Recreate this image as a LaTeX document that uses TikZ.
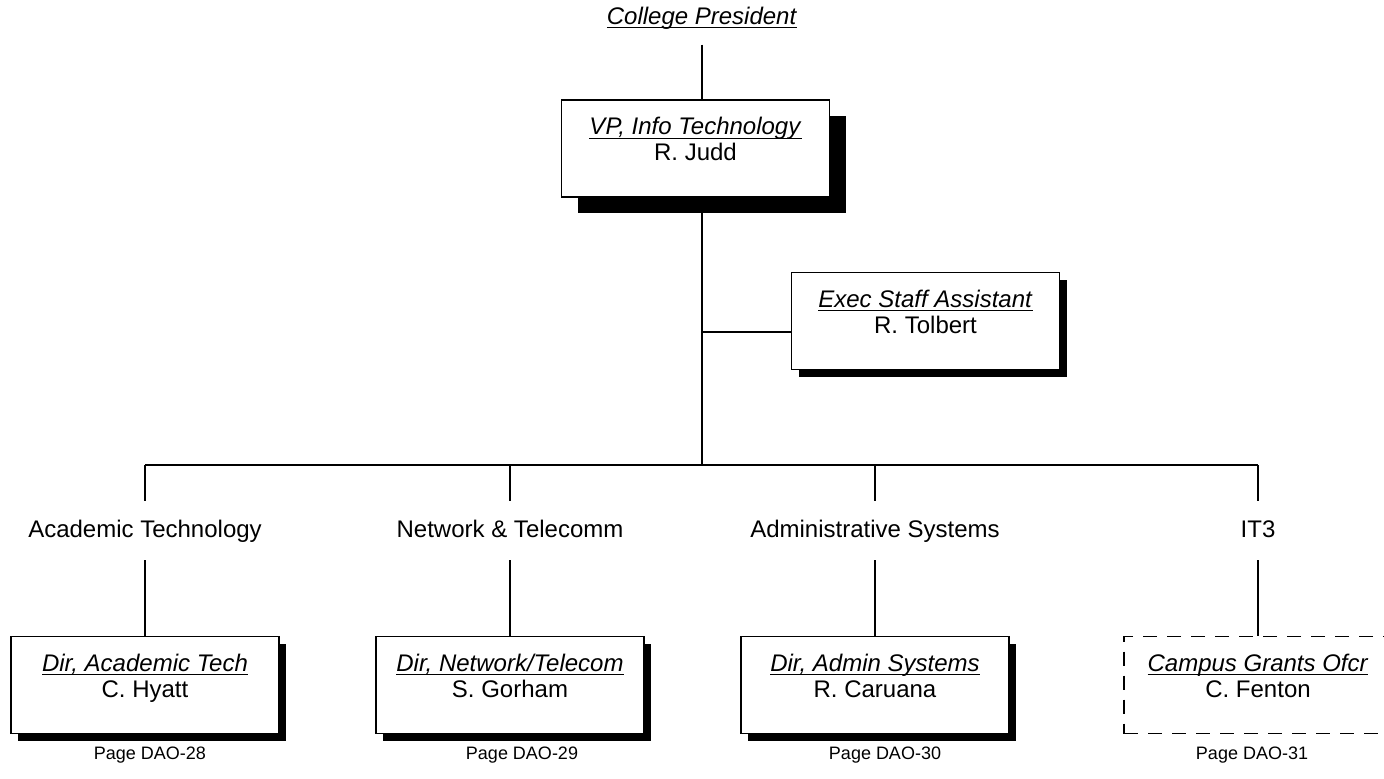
\documentclass[tikz,border=0pt]{standalone}
\usepackage{amsmath}
\usepackage{fontspec}
\setmainfont{Liberation Sans}
\setsansfont{Liberation Sans}
\usetikzlibrary{
	positioning,
	shadows,
	backgrounds,
	calc,
}
\tikzset{every picture/.style={/utils/exec={\sffamily}}}
\newcommand{\ttl}[1]{\underline{\smash[b]{\textit{#1}}}}
\newcommand{\role}[2]{\ttl{#1}\\#2\\[-3.5pt]\mbox{}}

\begin{document}
\begin{tikzpicture} [
            x=0.5pt,y=-0.5pt,
            every node/.style={align=center,rectangle},
            conn/.style={line width=0.8pt},
            head/.style={font=\fontsize{12}{13}\selectfont,inner ysep=7.5pt},
            post/.style={draw,line width=0.9pt,fill=white,minimum width=134pt,minimum height=48.5pt,font=\fontsize{12}{13}\selectfont,
                drop shadow={shadow xshift=#1,shadow yshift=-#1,fill=black,opacity=1}},
            post/.default=3.5pt,
            vacant/.style={draw,dashed,dash pattern=on 7pt off 5pt,line width=0.9pt,fill=white,minimum width=134pt,minimum height=48.5pt,font=\fontsize{12}{13}\selectfont},
            unit/.style={font=\fontsize{12}{13}\selectfont,text height=9pt,text depth=2.5pt,inner ysep=9pt},
            pg/.style={font=\fontsize{9}{10}\selectfont}
        ]
        \useasboundingbox (0,0) rectangle (1384,778);

        \node at (702,18) [head] (pres) {\ttl{College President}};

        \node at (695.5,148.5) [post=8pt] (vp) {\role{VP, Info Technology}{R. Judd}};

        \node at (925.5,321) [post] (exec) {\role{Exec Staff Assistant}{R. Tolbert}};

        \coordinate (estap) at (702,332);
        \coordinate (hub) at (702,465);

        \node at (145,530.5) [unit] (acad) {Academic Technology};
        \node at (510,530.5) [unit] (net) {Network \& Telecomm};
        \node at (875,530.5) [unit] (adm) {Administrative Systems};
        \node at (1258,530.5) [unit] (it) {IT3};

        \node at (145,685) [post] (dacad) {\role{Dir, Academic Tech}{C. Hyatt}};
        \node at (510,685) [post] (dnet) {\role{Dir, Network/Telecom}{S. Gorham}};
        \node at (875,685) [post] (dadm) {\role{Dir, Admin Systems}{R. Caruana}};
        \node at (1258,685) [vacant] (grants) {\role{Campus Grants Ofcr}{C. Fenton}};

        \node at (150,755) [pg] (pg28) {Page DAO-28};
        \node at (522,755) [pg] (pg29) {Page DAO-29};
        \node at (885,755) [pg] (pg30) {Page DAO-30};
        \node at (1252,755) [pg] (pg31) {Page DAO-31};

        \begin{scope}[on background layer]
            \draw[conn] (pres.south) -- (pres.south |- vp.north);
            \draw[conn] (hub |- vp.south) -- (hub);
            \draw[conn] (estap) -- (estap -| exec.west);
            \draw[conn] (hub -| acad) -- (hub -| it);
            \foreach \u/\d in {acad/dacad,net/dnet,adm/dadm,it/grants}{
                \draw[conn] (\u.north |- hub) -- (\u.north);
                \draw[conn] (\u.south) -- (\u.south |- \d.north);
            }
        \end{scope}
    \end{tikzpicture}
\end{document}
